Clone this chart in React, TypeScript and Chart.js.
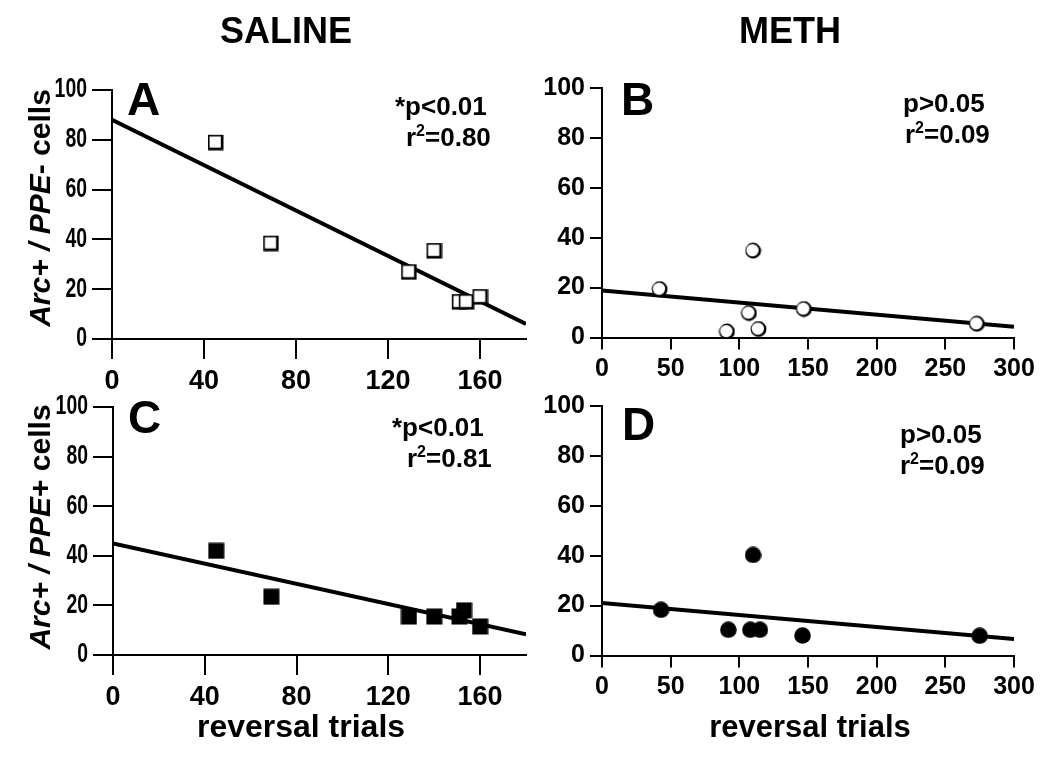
import React, { useEffect, useRef } from "react";
import { Chart, registerables } from "chart.js";

Chart.register(...registerables);

const FONT = '"Liberation Sans", Arial, Helvetica, sans-serif';

// ---------- DATA ----------
// Panel A: SALINE, Arc+ / PPE- cells
const salineTrialsA = [45, 69, 129, 140, 151, 154, 160];
const salinePPEneg = [79, 38.5, 27, 35.5, 15, 15, 17];
const fitAx = [0, 180];
const fitAy = [88, 6];

// Panel B: METH, Arc+ / PPE- cells
const methTrialsB = [42, 110, 107, 91, 114, 147, 273];
const methPPEneg = [19.4, 34.8, 9.8, 2.4, 3.4, 11.4, 5.5];
const fitBx = [0, 300];
const fitBy = [18.8, 4.3];

// Panel C: SALINE, Arc+ / PPE+ cells
const salineTrialsC = [45, 69, 129, 140, 151, 153, 160];
const salinePPEpos = [42, 23.5, 15.5, 15.5, 15.5, 18, 11.5];
const fitCx = [0, 180];
const fitCy = [45, 8.3];

// Panel D: METH, Arc+ / PPE+ cells
const methTrialsD = [43, 110, 92, 108, 115, 146, 275];
const methPPEpos = [18.3, 40.3, 10.3, 10.3, 10.3, 8, 7.9];
const fitDx = [0, 300];
const fitDy = [21, 6.6];

// Tick labels
const salineXTicks = [0, 40, 80, 120, 160];
const methXTicks = [0, 50, 100, 150, 200, 250, 300];
const yTicks = [0, 20, 40, 60, 80, 100];

// Texts
const colTitles = ["SALINE", "METH"];
const panelLetters = ["A", "B", "C", "D"];
const pTexts = ["*p<0.01", "p>0.05", "*p<0.01", "p>0.05"];
const r2Values = ["=0.80", "=0.09", "=0.81", "=0.09"];
const yTitleItalic = "Arc+ / PPE";
const yTitleRest = ["- cells", "+ cells"];
const xTitle = "reversal trials";

// ---------- MARKERS ----------
function makeMarker(kind: string): HTMLCanvasElement {
  const c = document.createElement("canvas");
  c.width = 17;
  c.height = 17;
  const g = c.getContext("2d")!;
  g.fillStyle = "#000";
  if (kind === "openSquare") {
    g.fillRect(1, 1, 15.5, 15.5);
    g.fillStyle = "#fff";
    g.fillRect(2.6, 2.6, 11.2, 11.2);
  } else if (kind === "openCircle") {
    g.beginPath();
    g.arc(8.5, 8.5, 7.9, 0, Math.PI * 2);
    g.fill();
    g.fillStyle = "#fff";
    g.beginPath();
    g.arc(7.8, 8.1, 6.2, 0, Math.PI * 2);
    g.fill();
  } else if (kind === "filledSquare") {
    g.fillRect(0.5, 0.5, 16, 16);
  } else {
    g.beginPath();
    g.arc(8.5, 8.5, 8.3, 0, Math.PI * 2);
    g.fill();
  }
  return c;
}

type Seg = { t: string; font: string; dy?: number };
type TextItem = { segs: Seg[]; x: number; y: number; align?: "left" | "center"; rot?: boolean };

type Panel = {
  left: number; top: number; width: number; height: number;
  area: { left: number; top: number; right: number; bottom: number };
  xMax: number; xTicks: number[]; tickLen: number; tickFont: number;
  yTickFont: number; yCondense: number; xPad: number;
  xs: number[]; ys: number[]; fx: number[]; fy: number[];
  marker: string; texts: TextItem[];
};

const B = (s: number) => `bold ${s}px ${FONT}`;
const BI = (s: number) => `italic bold ${s}px ${FONT}`;

function statTexts(i: number, x1: number, y1: number, x2: number, y2: number): TextItem[] {
  return [
    { segs: [{ t: pTexts[i], font: B(26) }], x: x1, y: y1 },
    {
      segs: [
        { t: "r", font: B(26) },
        { t: "2", font: B(16), dy: -10 },
        { t: r2Values[i], font: B(26) },
      ],
      x: x2,
      y: y2,
    },
  ];
}

const panels: Panel[] = [
  {
    left: 0, top: 0, width: 545, height: 400,
    area: { left: 112, top: 90, right: 526, bottom: 339 },
    xMax: 180, xTicks: salineXTicks, tickLen: 20, tickFont: 27, yTickFont: 27, yCondense: 0.72, xPad: 6,
    xs: salineTrialsA, ys: salinePPEneg, fx: fitAx, fy: fitAy, marker: "openSquare",
    texts: [
      { segs: [{ t: colTitles[0], font: B(36) }], x: 286, y: 43, align: "center" },
      { segs: [{ t: panelLetters[0], font: B(46) }], x: 127, y: 115 },
      ...statTexts(0, 395, 115, 406, 146),
      { segs: [{ t: yTitleItalic, font: BI(30) }, { t: yTitleRest[0], font: B(30) }], x: 50, y: 208, align: "center", rot: true },
    ],
  },
  {
    left: 520, top: 0, width: 530, height: 400,
    area: { left: 602, top: 88, right: 1014, bottom: 337.5 },
    xMax: 300, xTicks: methXTicks, tickLen: 12, tickFont: 25, yTickFont: 25, yCondense: 1, xPad: 5,
    xs: methTrialsB, ys: methPPEneg, fx: fitBx, fy: fitBy, marker: "openCircle",
    texts: [
      { segs: [{ t: colTitles[1], font: B(36) }], x: 790, y: 43, align: "center" },
      { segs: [{ t: panelLetters[1], font: B(46) }], x: 621, y: 115 },
      ...statTexts(1, 903, 112, 905, 143),
    ],
  },
  {
    left: 0, top: 370, width: 545, height: 389,
    area: { left: 113, top: 407, right: 526, bottom: 655 },
    xMax: 180, xTicks: salineXTicks, tickLen: 20, tickFont: 27, yTickFont: 27, yCondense: 0.72, xPad: 6,
    xs: salineTrialsC, ys: salinePPEpos, fx: fitCx, fy: fitCy, marker: "filledSquare",
    texts: [
      { segs: [{ t: panelLetters[2], font: B(46) }], x: 128, y: 433 },
      ...statTexts(2, 392, 436, 407, 467),
      { segs: [{ t: yTitleItalic, font: BI(30) }, { t: yTitleRest[1], font: B(30) }], x: 50, y: 527, align: "center", rot: true },
      { segs: [{ t: xTitle, font: B(32) }], x: 301, y: 737, align: "center" },
    ],
  },
  {
    left: 520, top: 370, width: 530, height: 389,
    area: { left: 602, top: 406, right: 1014, bottom: 655.5 },
    xMax: 300, xTicks: methXTicks, tickLen: 12, tickFont: 25, yTickFont: 25, yCondense: 1, xPad: 5,
    xs: methTrialsD, ys: methPPEpos, fx: fitDx, fy: fitDy, marker: "filledCircle",
    texts: [
      { segs: [{ t: panelLetters[3], font: B(46) }], x: 622, y: 440 },
      ...statTexts(3, 900, 443, 900, 474),
      { segs: [{ t: xTitle, font: B(31) }], x: 810, y: 737, align: "center" },
    ],
  },
];

const Y_AXIS_W = 80;
const X_AXIS_H = 55;
const Y_LABEL_PAD = 5;

function drawTexts(ctx: CanvasRenderingContext2D, p: Panel) {
  ctx.save();
  ctx.fillStyle = "#000";
  ctx.textBaseline = "alphabetic";
  ctx.textAlign = "left";
  for (const item of p.texts) {
    let total = 0;
    for (const s of item.segs) {
      ctx.font = s.font;
      total += ctx.measureText(s.t).width;
    }
    ctx.save();
    ctx.translate(item.x - p.left, item.y - p.top);
    if (item.rot) ctx.rotate(-Math.PI / 2);
    let cx = item.align === "center" ? -total / 2 : 0;
    for (const s of item.segs) {
      ctx.font = s.font;
      ctx.fillText(s.t, cx, s.dy || 0);
      cx += ctx.measureText(s.t).width;
    }
    ctx.restore();
  }
  ctx.restore();
}

// y tick labels drawn through the chart's y scale (horizontally condensed text)
function drawYLabels(chart: any, p: Panel) {
  const ctx: CanvasRenderingContext2D = chart.ctx;
  const ys = chart.scales.y;
  const xRight = ys.right - p.tickLen - Y_LABEL_PAD;
  ctx.save();
  ctx.fillStyle = "#000";
  ctx.font = B(p.yTickFont);
  ctx.textAlign = "right";
  ctx.textBaseline = "middle";
  for (const v of yTicks) {
    ctx.save();
    ctx.translate(xRight, ys.getPixelForValue(v));
    ctx.scale(p.yCondense, 1);
    ctx.fillText(String(v), 0, 0);
    ctx.restore();
  }
  ctx.restore();
}

function PanelChart({ p }: { p: Panel }) {
  const ref = useRef<HTMLCanvasElement>(null);
  useEffect(() => {
    const canvas = ref.current!;
    const marker = makeMarker(p.marker);
    const padding = {
      left: p.area.left - p.left - Y_AXIS_W,
      top: p.area.top - p.top,
      right: p.left + p.width - p.area.right,
      bottom: p.top + p.height - p.area.bottom - X_AXIS_H,
    };
    const tickGrid = (len: number) => ({
      display: true,
      drawOnChartArea: false,
      drawTicks: true,
      tickLength: len,
      color: "#000",
      tickColor: "#000",
      tickWidth: 2,
      lineWidth: 2,
    });
    const chart = new Chart(canvas, {
      type: "scatter",
      data: {
        datasets: [
          {
            data: p.xs.map((x, i) => ({ x, y: p.ys[i] })),
            pointStyle: marker as any,
            pointRadius: 8,
            showLine: false,
          },
          {
            data: p.fx.map((x, i) => ({ x, y: p.fy[i] })),
            showLine: true,
            borderColor: "#000",
            borderWidth: 4,
            pointRadius: 0,
            fill: false,
          },
        ],
      },
      options: {
        animation: false,
        responsive: false,
        maintainAspectRatio: false,
        devicePixelRatio: 1,
        layout: { padding },
        plugins: { legend: { display: false }, tooltip: { enabled: false } },
        scales: {
          x: {
            type: "linear",
            min: 0,
            max: p.xMax,
            border: { display: true, color: "#000", width: 2 },
            grid: tickGrid(p.tickLen),
            ticks: {
              color: "#000",
              font: { family: FONT, size: p.tickFont, weight: "bold" },
              padding: p.xPad,
              maxRotation: 0,
              autoSkip: false,
            },
            afterBuildTicks: (s: any) => {
              s.ticks = p.xTicks.map((v) => ({ value: v }));
            },
            afterFit: (s: any) => {
              s.height = X_AXIS_H;
            },
          },
          y: {
            type: "linear",
            min: 0,
            max: 100,
            border: { display: true, color: "#000", width: 2 },
            grid: tickGrid(p.tickLen),
            ticks: {
              display: false,
              padding: Y_LABEL_PAD,
              autoSkip: false,
            },
            afterBuildTicks: (s: any) => {
              s.ticks = yTicks.map((v) => ({ value: v }));
            },
            afterFit: (s: any) => {
              s.width = Y_AXIS_W;
            },
          },
        },
      },
      plugins: [
        {
          id: "annotations",
          afterDraw: (c: any) => {
            drawYLabels(c, p);
            drawTexts(c.ctx, p);
          },
        },
      ],
    } as any);
    return () => chart.destroy();
  }, [p]);
  return (
    <canvas
      ref={ref}
      width={p.width}
      height={p.height}
      style={{ position: "absolute", left: p.left, top: p.top, width: p.width, height: p.height }}
    />
  );
}

export default function App() {
  return (
    <div style={{ position: "absolute", left: 0, top: 0, width: 1050, height: 759, background: "#fff", overflow: "hidden" }}>
      {panels.map((p, i) => (
        <PanelChart key={i} p={p} />
      ))}
    </div>
  );
}
